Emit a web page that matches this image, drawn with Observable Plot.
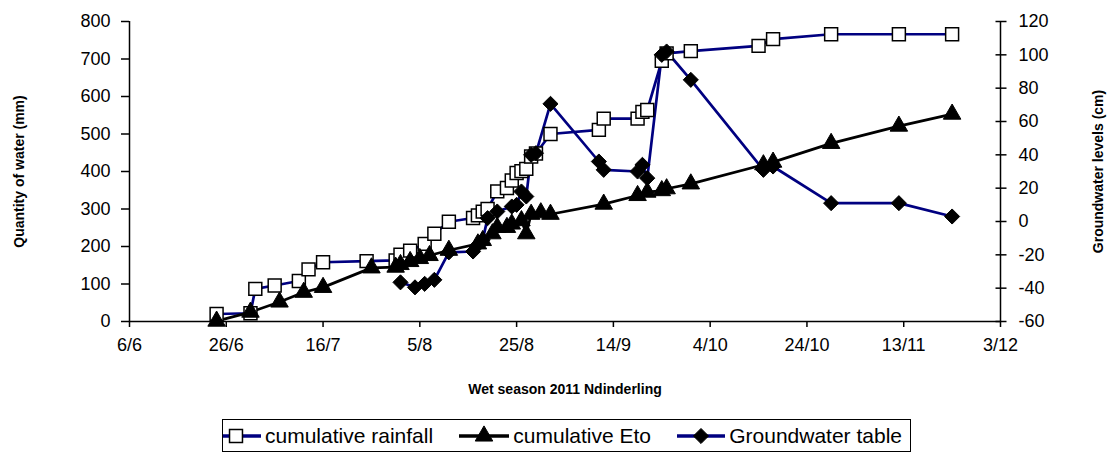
<!DOCTYPE html>
<html><head><meta charset="utf-8">
<script src="https://cdn.jsdelivr.net/npm/d3@7"></script>
<script src="https://cdn.jsdelivr.net/npm/@observablehq/plot@0.6"></script>
<style>
body{margin:0;background:#fff;font-family:"Liberation Sans",Arial,sans-serif;}
#wrap{position:relative;width:1115px;height:468px;}
#legend{position:absolute;left:222px;top:419px;width:689px;height:33px;border:1px solid #000;display:flex;align-items:center;justify-content:space-between;padding:0 8px 0 0;box-sizing:border-box;font-size:21px;color:#000;white-space:nowrap;overflow:hidden;}
#legend .item{display:flex;align-items:center;}
#legend svg{margin-right:4px;}
</style></head><body>
<div id="wrap"><div id="chart"></div><div id="legend"></div></div>
<script>
// ---- data ----
const rainDates = ["2011-06-24","2011-07-01","2011-07-02","2011-07-06","2011-07-11","2011-07-13","2011-07-16","2011-07-25","2011-07-31","2011-08-01","2011-08-03","2011-08-06","2011-08-08","2011-08-11","2011-08-16","2011-08-17","2011-08-18","2011-08-19","2011-08-21","2011-08-23","2011-08-24","2011-08-25","2011-08-26","2011-08-27","2011-08-28","2011-08-29","2011-09-01","2011-09-11","2011-09-12","2011-09-19","2011-09-20","2011-09-21","2011-09-24","2011-09-25","2011-09-30","2011-10-14","2011-10-17","2011-10-29","2011-11-12","2011-11-23"];
const rainValues = [20,22,87,96,108,139,158,161,163,178,189,207,234,266,276,283,293,300,347,356,376,396,401,407,440,448,500,511,541,541,559,564,695,715,721,735,753,766,766,766];

const etoDates = ["2011-06-24","2011-07-01","2011-07-07","2011-07-12","2011-07-16","2011-07-26","2011-07-31","2011-08-01","2011-08-03","2011-08-05","2011-08-07","2011-08-11","2011-08-17","2011-08-18","2011-08-20","2011-08-21","2011-08-23","2011-08-24","2011-08-26","2011-08-27","2011-08-28","2011-08-30","2011-09-01","2011-09-12","2011-09-19","2011-09-21","2011-09-24","2011-09-25","2011-09-30","2011-10-15","2011-10-17","2011-10-29","2011-11-12","2011-11-23"];
const etoValues = [1,25,52,78,91,143,145,152,160,168,176,190,207,216,234,251,251,260,269,234,286,290,286,313,336,345,349,354,367,418,425,475,521,553];

const gwDates = ["2011-08-01","2011-08-04","2011-08-06","2011-08-08","2011-08-11","2011-08-16","2011-08-17","2011-08-18","2011-08-19","2011-08-21","2011-08-24","2011-08-25","2011-08-26","2011-08-27","2011-08-28","2011-08-29","2011-09-01","2011-09-11","2011-09-12","2011-09-19","2011-09-20","2011-09-21","2011-09-24","2011-09-25","2011-09-30","2011-10-15","2011-10-17","2011-10-29","2011-11-12","2011-11-23"];
const gwValues = [-36.5,-39.5,-37.4,-35,-18.5,-18,-14,-11,2,6,9,10,18,15,40,41,70.6,36,31,30,34,26,100,102,85,31,33,11,11,3];

const leftTicks = [0,100,200,300,400,500,600,700,800];
const rightTicks = [-60,-40,-20,0,20,40,60,80,100,120];
const xStart = "2011-06-06", xEnd = "2011-12-03";
const xTickStep = 20;
const seriesNames = ["cumulative rainfall","cumulative Eto","Groundwater table"];

// ---- build ----
const parse = d3.utcParse("%Y-%m-%d");
const x0 = parse(xStart), x1 = parse(xEnd);
const xTicks = d3.utcDay.every(1).range(x0, d3.utcDay.offset(x1,1)).filter((d,i)=> i % xTickStep === 0);
const toLeft = g => (g + 60) * 800 / 180;
const fromLeft = v => Math.round(v * 180 / 800 - 60);

const rain = rainDates.map((d,i)=>({date:parse(d), v:rainValues[i]}));
const eto = etoDates.map((d,i)=>({date:parse(d), v:etoValues[i]}));
const gw = gwDates.map((d,i)=>({date:parse(d), v:toLeft(gwValues[i])}));

const navy = "#000080";
const font = "Liberation Sans, Arial, sans-serif";
const rSquare = 7.3, rTri = 6.5, rDiam = 6.8;

const chart = Plot.plot({
  width: 1115, height: 410,
  marginLeft: 129, marginRight: 115, marginTop: 21, marginBottom: 89,
  style: {fontFamily: font, fontSize: "18px", color: "#000", background: "#fff", overflow: "visible"},
  x: {type: "utc", domain: [x0, x1]},
  y: {domain: [0, 800]},
  marks: [
    Plot.ruleX([x0], {stroke: "#000", strokeWidth: 1.5}),
    Plot.ruleX([x1], {stroke: "#000", strokeWidth: 1.5}),
    Plot.ruleY([0], {stroke: "#000", strokeWidth: 1.5}),
    Plot.axisY({ticks: leftTicks, tickSize: 8, tickPadding: 11, tickFormat: d => d, label: null, fontSize: 18, strokeWidth: 1.5}),
    Plot.axisY({anchor: "right", ticks: rightTicks.map(toLeft), tickSize: 11, dx: -5.5, tickFormat: () => "", label: null, strokeWidth: 1.5}),
    Plot.axisY({anchor: "right", ticks: rightTicks.map(toLeft), tickFormat: fromLeft, tickSize: 0, tickPadding: 18, label: null, fontSize: 18}),
    Plot.axisX({ticks: xTicks, tickFormat: d3.utcFormat("%-d/%-m"), tickSize: 6, tickPadding: 11, label: null, fontSize: 18, strokeWidth: 1.5}),
    Plot.text(["Quantity of water (mm)"], {frameAnchor: "left", rotate: -90, dx: -110, textAnchor: "middle", fontWeight: "bold", fontSize: 14}),
    Plot.text(["Groundwater levels (cm)"], {frameAnchor: "right", rotate: -90, dx: 98, textAnchor: "middle", fontWeight: "bold", fontSize: 14}),
    Plot.text(["Wet season 2011 Ndinderling"], {frameAnchor: "bottom", dy: 72, fontWeight: "bold", fontSize: 14}),
    Plot.line(rain, {x: "date", y: "v", stroke: navy, strokeWidth: 2.7}),
    Plot.line(eto, {x: "date", y: "v", stroke: "#000", strokeWidth: 2.7}),
    Plot.line(gw, {x: "date", y: "v", stroke: navy, strokeWidth: 2.7}),
    Plot.dot(rain, {x: "date", y: "v", symbol: "square", r: rSquare, fill: "#fff", stroke: "#000", strokeWidth: 1.5}),
    Plot.dot(eto, {x: "date", y: "v", symbol: "triangle", r: rTri, fill: "#000", stroke: "#000", strokeWidth: 1}),
    Plot.dot(gw, {x: "date", y: "v", symbol: "diamond2", r: rDiam, fill: "#000", stroke: "#000", strokeWidth: 1})
  ]
});
document.getElementById("chart").appendChild(chart);

// legend
const legendDefs = [
  {name: seriesNames[0], stroke: navy, symbol: d3.symbolSquare, fill: "#fff", sw: 1.5, r: rSquare, w: 38, cx: 13},
  {name: seriesNames[1], stroke: "#000", symbol: d3.symbolTriangle, fill: "#000", sw: 1, r: rTri, w: 50, cx: 25},
  {name: seriesNames[2], stroke: navy, symbol: d3.symbolDiamond2, fill: "#000", sw: 1, r: rDiam, w: 48, cx: 24}
];
const leg = d3.select("#legend");
legendDefs.forEach(def => {
  const it = leg.append("div").attr("class", "item");
  const s = it.append("svg").attr("width", def.w).attr("height", 22);
  s.append("line").attr("x1", 0).attr("x2", def.w).attr("y1", 11).attr("y2", 11).attr("stroke", def.stroke).attr("stroke-width", 3.5);
  s.append("path").attr("transform", `translate(${def.cx},11)`)
    .attr("d", d3.symbol(def.symbol, Math.PI * def.r * def.r)())
    .attr("fill", def.fill).attr("stroke", "#000").attr("stroke-width", def.sw);
  it.append("span").text(def.name);
});
</script>
</body></html>
